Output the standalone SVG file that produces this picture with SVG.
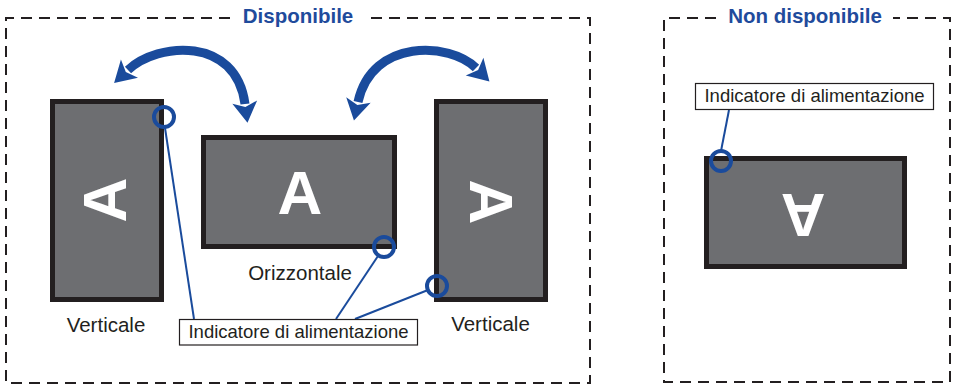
<svg xmlns="http://www.w3.org/2000/svg" width="956" height="386" viewBox="0 0 956 386">
<style>
.frame{fill:none;stroke:#231f20;stroke-width:2;stroke-dasharray:11 7}
.title{font-family:"Liberation Sans",Arial,sans-serif;font-weight:bold;font-size:20.5px;fill:#1f4b9c;text-anchor:middle}
.mon{fill:#6d6e71;stroke:#231f20;stroke-width:5}
.letter{font-family:"Liberation Sans",Arial,sans-serif;font-weight:bold;font-size:62px;fill:#ffffff;text-anchor:middle}
.lbl{font-family:"Liberation Sans",Arial,sans-serif;font-size:20.5px;fill:#231f20;text-anchor:middle}
.callout{fill:#ffffff;stroke:#231f20;stroke-width:1.2}
.ctext{font-family:"Liberation Sans",Arial,sans-serif;font-size:18.5px;fill:#231f20;text-anchor:middle}
.ind{fill:none;stroke:#1a4b9c;stroke-width:4}
.lead{fill:none;stroke:#1a4b9c;stroke-width:2}
.rot{fill:none;stroke:#1a4b9c;stroke-width:9}
</style>
<defs>
<marker id="head" markerUnits="userSpaceOnUse" viewBox="-2 -14 26 28" markerWidth="26" markerHeight="28" refX="2" refY="0" orient="auto-start-reverse">
<path d="M0,-12.5 L21,0 L0,12.5 L5,0 Z" fill="#1a4b9c"/>
</marker>
</defs>
<g id="frame-available">
<path class="frame" d="M230,18 L6,18 L6,383 L590,383 L590,18 L366,18"/>
<text class="title" x="298" y="23">Disponibile</text>
</g>
<g id="frame-unavailable">
<path class="frame" d="M716,18 L664,18 L664,382 L950,382 L950,18 L893,18"/>
<text class="title" x="805" y="23">Non disponibile</text>
</g>
<g id="monitor-left">
<rect class="mon" x="52.5" y="101.5" width="109" height="198"/>
<text class="letter" x="104" y="222" transform="rotate(-90 104 200)">A</text>
<text class="lbl" x="106" y="331.5">Verticale</text>
</g>
<g id="monitor-center">
<rect class="mon" x="203.5" y="137.5" width="191" height="109"/>
<text class="letter" x="300" y="214">A</text>
<text class="lbl" x="300" y="280">Orizzontale</text>
</g>
<g id="monitor-right">
<rect class="mon" x="436.5" y="101.5" width="109" height="198"/>
<text class="letter" x="492" y="224" transform="rotate(90 492 202)">A</text>
<text class="lbl" x="490.5" y="331">Verticale</text>
</g>
<g id="monitor-unavailable">
<rect class="mon" x="706.5" y="158.5" width="198" height="108"/>
<text class="letter" x="803" y="238" transform="rotate(180 803 216)">A</text>
</g>
<g id="connectors">
<path class="rot" d="M128,70 C158,42 236,36 245,104" marker-start="url(#head)" marker-end="url(#head)"/>
<path class="rot" d="M358,102 C372,38 450,42 476,68" marker-start="url(#head)" marker-end="url(#head)"/>
<line class="lead" x1="165" y1="128" x2="194" y2="319"/>
<line class="lead" x1="378" y1="256" x2="336" y2="319"/>
<line class="lead" x1="428" y1="290" x2="355" y2="319"/>
<line class="lead" x1="729" y1="110" x2="721" y2="151"/>
</g>
<g id="indicators">
<circle class="ind" cx="164" cy="117" r="10"/>
<circle class="ind" cx="384" cy="247" r="10"/>
<circle class="ind" cx="437" cy="286" r="10"/>
<circle class="ind" cx="721" cy="161" r="10"/>
</g>
<g id="label-indicator">
<rect class="callout" x="179.5" y="319.5" width="238" height="25.5"/>
<text class="ctext" x="298.5" y="338">Indicatore di alimentazione</text>
</g>
<g id="label-indicator-2">
<rect class="callout" x="695.5" y="83.5" width="238" height="26"/>
<text class="ctext" x="814.5" y="102">Indicatore di alimentazione</text>
</g>
</svg>
